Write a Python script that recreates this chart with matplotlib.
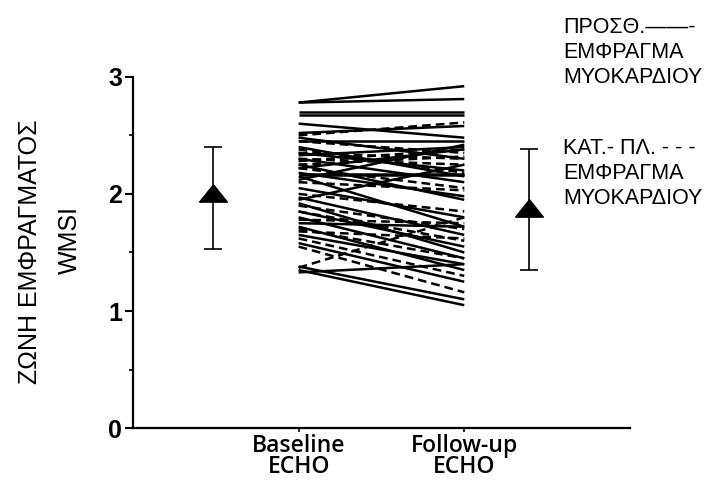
import matplotlib
matplotlib.use("Agg")
import matplotlib.pyplot as plt
from matplotlib.ticker import MultipleLocator

# Τιμές WMSI ανά ασθενή (αρχική / επανεκτίμηση)
baseline_solid = [2.78, 2.78, 2.70, 2.67, 2.60, 2.52, 2.48, 2.45, 2.40, 2.33,
                  2.30, 2.25, 2.17, 2.16, 2.15, 2.05, 1.97, 1.92, 1.85, 1.80,
                  1.72, 1.65, 1.58, 1.38, 1.35, 1.33, 2.35, 2.22, 2.12, 2.18,
                  1.95, 1.75]
followup_solid = [2.92, 2.81, 2.70, 2.67, 2.48, 2.58, 2.30, 2.45, 2.15, 2.40,
                  2.10, 1.95, 2.17, 2.16, 1.72, 1.80, 1.65, 1.50, 1.55, 1.45,
                  1.35, 1.40, 1.25, 1.10, 1.05, 1.40, 2.20, 2.38, 2.42, 1.98,
                  2.25, 1.72]
baseline_dashed = [2.50, 2.45, 2.35, 2.30, 2.28, 2.22, 2.10, 2.00, 1.90, 1.85,
                   1.78, 1.70, 1.62, 1.55, 1.37, 2.38, 2.25, 1.68]
followup_dashed = [2.61, 2.35, 2.30, 2.25, 2.38, 2.05, 2.03, 1.85, 1.70, 1.60,
                   1.75, 1.45, 1.30, 1.16, 1.80, 2.18, 2.32, 1.62]

# μέση τιμή και εύρος
mean_vals = [2.0, 1.87]
err_low = [1.53, 1.35]
err_high = [2.40, 2.38]

x_pos = [2, 4]
x_mean = [0.97, 4.78]
tick_labels = ["Baseline\nECHO", "Follow-up\nECHO"]

fig = plt.figure(figsize=(7.17, 4.8), dpi=100)
ax = fig.add_axes([0.1855, 0.108, 0.693, 0.732])

for b, f in zip(baseline_solid, followup_solid):
    ax.plot(x_pos, [b, f], color="black", lw=1.8, solid_capstyle="butt")
for b, f in zip(baseline_dashed, followup_dashed):
    ax.plot(x_pos, [b, f], color="black", lw=1.8, ls=(0, (3.5, 2)))

tri = [(-1.0, -0.55), (1.0, -0.55), (0.0, 0.7), (-1.0, -0.55)]
yerr = [[m - lo for m, lo in zip(mean_vals, err_low)],
        [hi - m for m, hi in zip(mean_vals, err_high)]]
ax.errorbar(x_mean, mean_vals, yerr=yerr, fmt="none", ecolor="black",
            elinewidth=1.2, capsize=6.5, capthick=1.2)
ax.plot(x_mean, mean_vals, ls="none", marker=tri, markersize=20,
        color="black")

ax.set_xlim(0, 6)
ax.set_ylim(0, 3)
ax.spines["top"].set_visible(False)
ax.spines["right"].set_visible(False)
ax.spines["left"].set_linewidth(1.6)
ax.spines["bottom"].set_linewidth(1.6)

ax.set_yticks([0, 1, 2, 3])
ax.yaxis.set_minor_locator(MultipleLocator(0.5))
ax.tick_params(axis="y", which="major", length=6, width=1.5, direction="out",
               pad=2)
ax.tick_params(axis="y", which="minor", length=3, width=1.2, direction="out")
for lbl in ax.get_yticklabels():
    lbl.set_fontfamily("Liberation Sans")
    lbl.set_fontweight("bold")
    lbl.set_fontsize(18)

ax.set_xticks(x_pos)
ax.set_xticklabels(tick_labels, fontfamily="Open Sans", fontweight="semibold",
                   fontsize=16.5, linespacing=0.85)
ax.tick_params(axis="x", length=3, width=1.2, direction="out", pad=1)

fig.text(0.042, 0.475, "ΖΩΝΗ ΕΜΦΡΑΓΜΑΤΟΣ", rotation=90, ha="center",
         va="center", fontsize=18, family="Liberation Sans")
fig.text(0.098, 0.50, "WMSI", rotation=90, ha="center", va="center",
         fontsize=18, family="Liberation Sans")

legend_solid = ["ΠΡΟΣΘ.——-", "ΕΜΦΡΑΓΜΑ", "ΜΥΟΚΑΡΔΙΟΥ"]
legend_dashed = ["ΚΑΤ.- ΠΛ. - - -", "ΕΜΦΡΑΓΜΑ", "ΜΥΟΚΑΡΔΙΟΥ"]
fig.text(0.785, 0.965, "\n".join(legend_solid), ha="left", va="top",
         fontsize=15.5, family="Liberation Sans", linespacing=1.25)
fig.text(0.785, 0.712, "\n".join(legend_dashed), ha="left", va="top",
         fontsize=15.5, family="Liberation Sans", linespacing=1.25)

fig.savefig("out.png", dpi=100)
